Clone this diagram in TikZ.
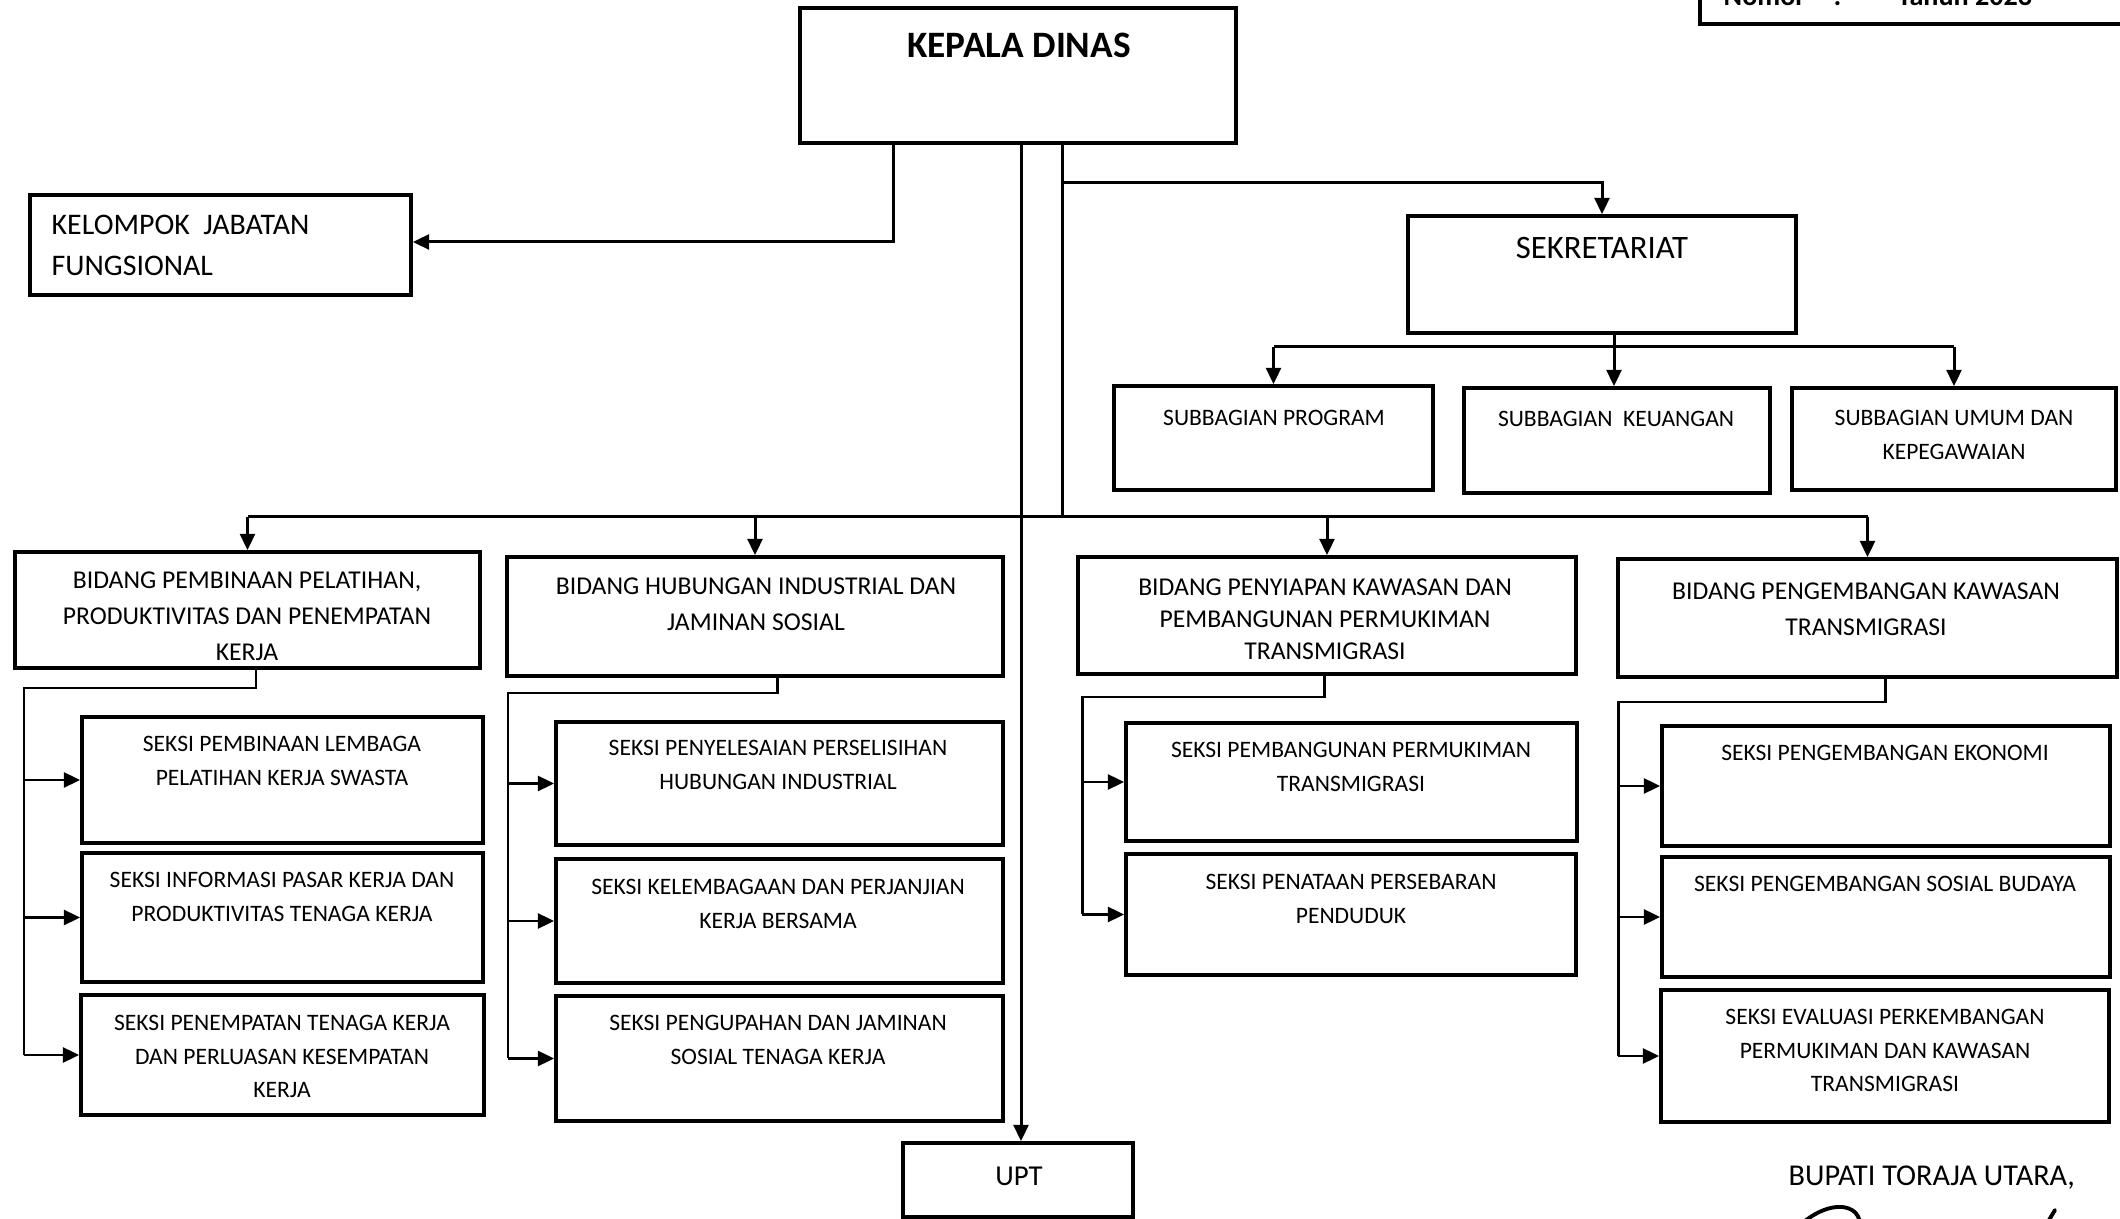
\documentclass[tikz,border=0pt]{standalone}
\usepackage{fontspec}
\setmainfont{Carlito}
\usetikzlibrary{fit,arrows.meta}
\tikzset{
  box/.style={draw, line width=1.05pt, inner sep=0pt},
  conn/.style={line width=0.85pt},
  arr/.style={conn, -{Triangle[length=4.6pt,width=4.2pt]}},
  tb/.style={font=\fontsize{7.3}{10.2}\selectfont, align=center, anchor=north, inner sep=0pt},
  ts/.style={font=\fontsize{6.7}{9.5}\selectfont, align=center, anchor=north, inner sep=0pt},
}
\begin{document}
\begin{tikzpicture}[x=0.01cm,y=-0.01cm]
\useasboundingbox (0,0) rectangle (2120,1219);

% top right box (cut off at the top edge, as in the scan)
\node[box, fit={(1700,-80) (2160,24)}] (nomor) {};
\node[font=\bfseries\fontsize{8}{9}\selectfont, anchor=base west, inner sep=0pt] (nomT) at (1723,6) {Nomor};
\node[font=\bfseries\fontsize{8}{9}\selectfont, anchor=base west, inner sep=0pt] (nomC) at (1833,6) {:};
\node[font=\bfseries\fontsize{8}{9}\selectfont, anchor=base west, inner sep=0pt] (nomY) at (1897,6) {Tahun 2023};

% boxes
\node[box, fit={(800,8) (1236,143)}] (kd) {};
\node[font=\bfseries\fontsize{10.6}{12}\selectfont, anchor=north, inner sep=0pt] (kdT) at (1019,32) {KEPALA DINAS};

\node[box, fit={(30,195) (411,295)}] (kel) {};
\node[font=\fontsize{8.5}{11.9}\selectfont, align=left, anchor=north west, inner sep=0pt] (kelT) at (51,214) {KELOMPOK\ \ JABATAN\\FUNGSIONAL};

\node[box, fit={(1408,216) (1796,333)}] (sek) {};
\node[font=\fontsize{9.3}{11}\selectfont, anchor=north, inner sep=0pt] (sekT) at (1602,237) {SEKRETARIAT};

\node[box, fit={(1114,386) (1433,490)}] (prog) {};
\node[ts] (progT) at (1274,410) {SUBBAGIAN PROGRAM};
\node[box, fit={(1464,388) (1770,493)}] (keu) {};
\node[ts] (keuT) at (1616,411) {SUBBAGIAN\ \ KEUANGAN};
\node[box, fit={(1792,388) (2116,490)}] (umum) {};
\node[ts] (umumT) at (1954,410) {SUBBAGIAN UMUM DAN\\KEPEGAWAIAN};

% bidang
\node[box, fit={(15,552) (480,668)}] (b1) {};
\node[tb] (b1T) at (247,571) {BIDANG PEMBINAAN PELATIHAN,\\PRODUKTIVITAS DAN PENEMPATAN\\KERJA};
\node[box, fit={(507,557) (1003,676)}] (b2) {};
\node[tb] (b2T) at (756,577) {BIDANG HUBUNGAN INDUSTRIAL DAN\\JAMINAN SOSIAL};
\node[box, fit={(1078,557) (1576,674)}] (b3) {};
\node[tb, font=\fontsize{7.3}{9.1}\selectfont] (b3T) at (1325,578) {BIDANG PENYIAPAN KAWASAN DAN\\PEMBANGUNAN PERMUKIMAN\\TRANSMIGRASI};
\node[box, fit={(1618,559) (2117,677)}] (b4) {};
\node[tb] (b4T) at (1866,582) {BIDANG PENGEMBANGAN KAWASAN\\TRANSMIGRASI};

% seksi column 1
\node[box, fit={(82,717) (483,843)}] (s11) {};
\node[ts] (s11T) at (282,736) {SEKSI PEMBINAAN LEMBAGA\\PELATIHAN KERJA SWASTA};
\node[box, fit={(82,853) (483,982)}] (s12) {};
\node[ts] (s12T) at (282,872) {SEKSI INFORMASI PASAR KERJA DAN\\PRODUKTIVITAS TENAGA KERJA};
\node[box, fit={(81,995) (484,1115)}] (s13) {};
\node[ts] (s13T) at (282,1015) {SEKSI PENEMPATAN TENAGA KERJA\\DAN PERLUASAN KESEMPATAN\\KERJA};

% seksi column 2
\node[box, fit={(556,722) (1003,845)}] (s21) {};
\node[ts] (s21T) at (778,740) {SEKSI PENYELESAIAN PERSELISIHAN\\HUBUNGAN INDUSTRIAL};
\node[box, fit={(556,859) (1003,983)}] (s22) {};
\node[ts] (s22T) at (778,879) {SEKSI KELEMBAGAAN DAN PERJANJIAN\\KERJA BERSAMA};
\node[box, fit={(556,996) (1003,1121)}] (s23) {};
\node[ts] (s23T) at (778,1015) {SEKSI PENGUPAHAN DAN JAMINAN\\SOSIAL TENAGA KERJA};

% seksi column 3
\node[box, fit={(1126,723) (1577,841)}] (s31) {};
\node[ts] (s31T) at (1351,742) {SEKSI PEMBANGUNAN PERMUKIMAN\\TRANSMIGRASI};
\node[box, fit={(1126,854) (1576,975)}] (s32) {};
\node[ts] (s32T) at (1351,874) {SEKSI PENATAAN PERSEBARAN\\PENDUDUK};

% seksi column 4
\node[box, fit={(1662,726) (2110,846)}] (s41) {};
\node[ts] (s41T) at (1885,745) {SEKSI PENGEMBANGAN EKONOMI};
\node[box, fit={(1662,857) (2110,977)}] (s42) {};
\node[ts] (s42T) at (1885,876) {SEKSI PENGEMBANGAN SOSIAL BUDAYA};
\node[box, fit={(1661,990) (2109,1122)}] (s43) {};
\node[ts] (s43T) at (1885,1009) {SEKSI EVALUASI PERKEMBANGAN\\PERMUKIMAN DAN KAWASAN\\TRANSMIGRASI};

% UPT
\node[box, fit={(903,1143) (1133,1217)}] (upt) {};
\node[font=\fontsize{8.2}{9}\selectfont, anchor=north, inner sep=0pt] (uptT) at (1019,1166) {UPT};

% signature block
\node[font=\fontsize{8.6}{10}\selectfont, anchor=base west, inner sep=0pt] (bup) at (1788,1186) {BUPATI TORAJA UTARA,};
\draw[line width=1.1pt, line cap=round] (1800,1225) .. controls (1815,1212) and (1830,1206) .. (1842,1207) .. controls (1852,1208) and (1858,1213) .. (1860,1222);
\draw[line width=1.1pt, line cap=round] (2055,1210) -- (2046,1225);

% connectors
\coordinate (xk) at (893,242);
\coordinate (x1) at (1021,0);
\coordinate (x2) at (1062,517);
\coordinate (js) at (1062,183);
\coordinate (jsb) at (1614,347);

\draw[arr] (kd.south -| xk) -- (xk) -- (kel.east |- xk);
\draw[arr] (kd.south -| x1) -- (upt.north -| x1);
\draw[conn] (kd.south -| x2) -- (x2);
\draw[arr] (js) -| (sek.north);

\draw[arr] (sek.south -| jsb) -- (keu.north -| jsb);
\draw[conn] (prog.north |- jsb) -- (umum.north |- jsb);
\draw[arr] (prog.north |- jsb) -- (prog.north);
\draw[arr] (umum.north |- jsb) -- (umum.north);

\draw[conn] (b1.north |- x2) -- (b4.north |- x2);
\draw[arr] (b1.north |- x2) -- (b1.north);
\draw[arr] (b2.north |- x2) -- (b2.north);
\draw[arr] (b3.north |- x2) -- (b3.north);
\draw[arr] (b4.north |- x2) -- (b4.north);

% column 1
\coordinate (c1a) at (256,688);
\coordinate (c1b) at (24,688);
\draw[conn] (b1.south -| c1a) -- (c1a) -- (c1b) -- (c1b |- s13.west);
\draw[arr] (c1b |- s11.west) -- (s11.west);
\draw[arr] (c1b |- s12.west) -- (s12.west);
\draw[arr] (c1b |- s13.west) -- (s13.west);

% column 2
\coordinate (c2a) at (777,693);
\coordinate (c2b) at (508,693);
\draw[conn] (b2.south -| c2a) -- (c2a) -- (c2b) -- (c2b |- s23.west);
\draw[arr] (c2b |- s21.west) -- (s21.west);
\draw[arr] (c2b |- s22.west) -- (s22.west);
\draw[arr] (c2b |- s23.west) -- (s23.west);

% column 3
\coordinate (c3a) at (1324,697);
\coordinate (c3b) at (1082,697);
\draw[conn] (b3.south -| c3a) -- (c3a) -- (c3b) -- (c3b |- s32.west);
\draw[arr] (c3b |- s31.west) -- (s31.west);
\draw[arr] (c3b |- s32.west) -- (s32.west);

% column 4
\coordinate (c4a) at (1885,702);
\coordinate (c4b) at (1618,702);
\draw[conn] (b4.south -| c4a) -- (c4a) -- (c4b) -- (c4b |- s43.west);
\draw[arr] (c4b |- s41.west) -- (s41.west);
\draw[arr] (c4b |- s42.west) -- (s42.west);
\draw[arr] (c4b |- s43.west) -- (s43.west);
\end{tikzpicture}
\end{document}
